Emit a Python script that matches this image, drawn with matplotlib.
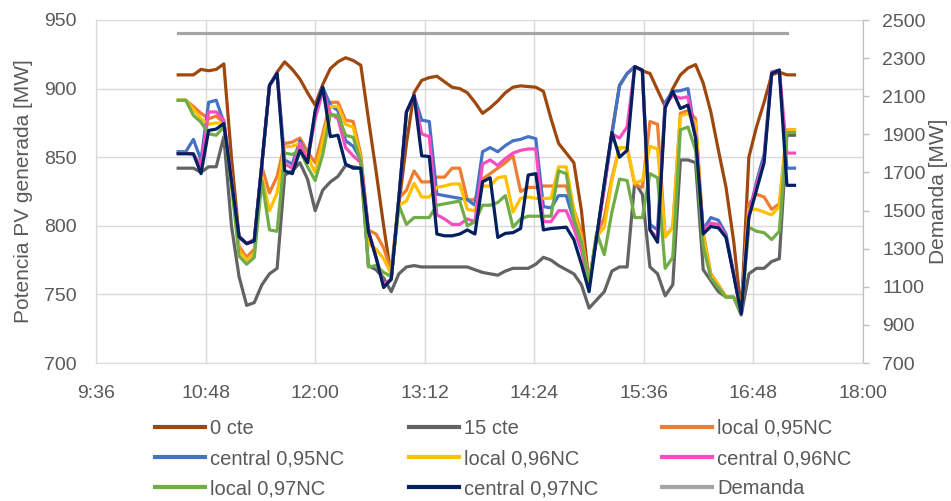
import matplotlib
matplotlib.use('Agg')
import matplotlib.pyplot as plt
import numpy as np

plt.rcParams['font.family'] = ['Liberation Sans', 'DejaVu Sans']

# ---- data ----
t_start = 630   # 10:30 in minutes of the day
t_step = 5      # five-minute samples
n_points = 82
times = t_start + t_step * np.arange(n_points)

cte_0 = [910, 910, 910, 914, 913, 914, 918, 850, 792, 787, 790, 845, 902, 912, 919.5, 914,
         907, 897, 888, 903, 914.6, 919.5, 922.5, 920.5, 917, 878, 840, 800, 763, 815, 860, 897,
         906, 908, 909, 905, 901, 900, 897, 890, 882, 886, 891, 897, 901, 902, 901.5, 901,
         898, 878, 860, 853, 846, 811, 757, 792, 830, 868, 902, 911, 916, 913, 911, 899,
         887, 900, 910, 915, 917.5, 904, 883, 855, 828, 789, 737, 850, 872, 890, 910, 912,
         910, 910]
cte_15 = [842, 842, 842, 839, 843, 843, 865, 800, 763, 742, 744, 757, 765, 769, 837, 840,
          846, 834, 811, 826, 832, 836, 844, 843, 842, 771, 768, 762, 752, 765, 770, 771,
          770, 770, 770, 770, 770, 770, 770, 768, 766, 765, 764, 767, 769, 769, 769, 772,
          777, 775, 771, 768, 765, 757, 740, 746, 752, 767, 770, 770, 832, 823, 770, 765,
          749, 757, 848, 848, 846, 768, 760, 752, 748, 748, 735, 765, 769, 769, 774, 776,
          866, 866]
local_095 = [891.5, 891.5, 887, 882, 878, 880, 875, 835, 785, 777, 783, 843, 824, 836, 860, 861,
             864, 854, 846, 867, 890, 890, 877, 876, 852, 797, 794, 784, 767, 820, 826, 840,
             832, 832, 835.5, 835.5, 842, 842, 819, 819, 834, 838, 842, 846, 851, 825, 828, 828,
             829, 829, 829, 829, 812, 795, 758, 794, 806, 835, 857, 857, 830, 828, 876, 874,
             792, 799, 882, 884, 878, 795, 765, 757, 748, 748, 737, 816, 823, 821, 812, 816,
             870, 870]
central_095 = [854, 854, 863, 848, 890, 891.5, 875.5, 833, 792, 787, 789, 845, 902, 911, 848, 845,
               862, 850, 882, 901, 888, 884, 862, 858, 848, 796, 777, 757, 761, 820, 883, 895,
               877, 876, 823, 822, 821, 820, 819, 815, 854, 857, 854, 858.5, 862, 863, 865, 863.5,
               814, 813, 822, 822, 804, 785, 758, 792, 828, 866, 902.5, 911, 916, 913.5, 801, 797,
               890, 898, 898.5, 900, 865, 797, 806, 804, 794, 765, 736, 808, 832, 852, 912, 913.5,
               842, 842]
local_096 = [891.5, 891.5, 885, 878, 874, 875, 874, 833, 782, 775, 780, 836, 811, 824, 857.5, 858,
             860, 850, 839, 862, 887, 887, 874, 872, 849, 787, 783, 776, 765, 815, 818, 831,
             821, 821, 828, 829, 830.5, 830.5, 812, 811, 829, 829, 835, 836, 810, 820, 821, 820,
             820, 820, 843, 843, 812, 790, 758, 792, 799, 833, 857, 857, 831, 833, 858, 856,
             792, 799, 880, 882, 875, 793, 764, 757, 748, 748, 737, 812, 812, 810, 808, 814,
             870, 870]
central_096 = [853, 853, 852, 844, 883, 883, 877, 833, 792, 787, 789, 845, 902, 911, 845, 842,
               860, 848, 878, 898, 882, 878, 857, 851, 846, 796, 777, 757, 761, 820, 883, 895,
               867, 865, 808, 805, 801, 801, 805, 803, 845, 848, 844, 849, 853, 855, 856, 856,
               803, 803, 811, 811, 798, 782, 758, 791, 828, 867, 864, 872, 916, 913, 797, 791,
               888, 895, 893, 894, 865, 796, 802, 801, 792, 765, 736, 808, 830, 848, 912, 913,
               853, 853]
local_097 = [891.5, 891.5, 880.5, 875.5, 867, 866, 872, 830, 778, 772, 777, 833, 797, 796, 853, 852,
             855, 843, 833, 852, 881, 880.5, 866, 864.5, 847, 770, 771, 766, 763, 815, 801, 806,
             806, 806, 815, 816, 817, 818, 800, 803, 815, 815, 817, 822, 799, 805, 807, 807,
             807, 807, 840, 838, 805, 788, 758, 795, 779, 810, 834, 833, 806, 806, 838, 835,
             769, 777, 870, 872, 855, 785, 762, 755, 748, 748, 737, 799, 796, 795, 790, 796,
             868, 868]
central_097 = [852.5, 852.5, 852.5, 838, 869.5, 870.5, 874.5, 833, 792, 787, 789, 845, 902.5, 911, 840, 838,
               855, 846, 884, 901, 865, 866, 845, 842, 842, 796, 777, 755, 761, 820, 883, 895,
               851, 850.5, 794, 792.7, 792.7, 794, 797, 794, 832, 835, 791.5, 794.5, 795, 798, 837, 838,
               797, 798, 798.5, 799, 790, 772, 752, 792, 831, 868, 850, 855, 916, 913.5, 797, 788,
               886, 898, 885.5, 888, 864, 794, 799.5, 798.5, 791.5, 764, 736, 806, 826, 846, 911, 913.5,
               829.5, 829.5]
demanda = [2433, 2433, 2433, 2433, 2433, 2433, 2433, 2433, 2433, 2433, 2433, 2433, 2433, 2433,
           2433, 2433, 2433, 2433, 2433, 2433, 2433, 2433, 2433, 2433, 2433, 2433, 2433, 2433,
           2433, 2433, 2433, 2433, 2433, 2433, 2433, 2433, 2433, 2433, 2433, 2433, 2433, 2433,
           2433, 2433, 2433, 2433, 2433, 2433, 2433, 2433, 2433, 2433, 2433, 2433, 2433, 2433,
           2433, 2433, 2433, 2433, 2433, 2433, 2433, 2433, 2433, 2433, 2433, 2433, 2433, 2433,
           2433, 2433, 2433, 2433, 2433, 2433, 2433, 2433, 2433, 2433, 2433]

series_names = ['0 cte', '15 cte', 'local 0,95NC', 'central 0,95NC', 'local 0,96NC',
                'central 0,96NC', 'local 0,97NC', 'central 0,97NC']
series_values = [cte_0, cte_15, local_095, central_095, local_096, central_096, local_097, central_097]
series_colors = ['#9E480E', '#636363', '#ED7D31', '#4472C4', '#FFC000', '#F44EC2', '#70AD47', '#002060']

x_ticks = [576, 648, 720, 792, 864, 936, 1008, 1080]
x_tick_labels = ['9:36', '10:48', '12:00', '13:12', '14:24', '15:36', '16:48', '18:00']
left_ticks = [700, 750, 800, 850, 900, 950]
right_ticks = [700, 900, 1100, 1300, 1500, 1700, 1900, 2100, 2300, 2500]

# ---- figure ----
W, H = 951, 501
fig = plt.figure(figsize=(W / 100, H / 100), dpi=100)
x0, x1, y0, y1 = 96, 863, 20, 363
ax = fig.add_axes([x0 / W, 1 - y1 / H, (x1 - x0) / W, (y1 - y0) / H])
ax2 = ax.twinx()

text_col = '#595959'
grid_col = '#D9D9D9'

handles = []
for name, vals, col in zip(series_names, series_values, series_colors):
    h, = ax.plot(times, vals, color=col, lw=2.3, label=name, solid_joinstyle='round')
    handles.append(h)
hd, = ax2.plot(times[:len(demanda)], demanda, color='#A5A5A5', lw=2.3, label='Demanda')
handles.append(hd)

ax.set_xlim(576, 1080)
ax.set_ylim(700, 950)
ax2.set_ylim(700, 2500)
ax.set_xticks(x_ticks)
ax.set_xticklabels(x_tick_labels)
ax.set_yticks(left_ticks)
ax2.set_yticks(right_ticks)

ax.grid(True, color=grid_col, lw=1)
ax.set_axisbelow(True)
for sp in ['left', 'bottom', 'right']:
    ax.spines[sp].set_color(grid_col)
    ax2.spines[sp].set_color(grid_col)
ax.spines['top'].set_visible(False)
ax2.spines['top'].set_visible(False)
ax2.spines['right'].set_color('#BFBFBF')

ax.tick_params(axis='y', length=0, pad=14, labelsize=14, labelcolor=text_col)
ax.tick_params(axis='x', length=0, pad=16, labelsize=14, labelcolor=text_col)
ax2.tick_params(axis='y', length=4, width=1, color='#BFBFBF', pad=10, labelsize=14, labelcolor=text_col)

ax.set_ylabel('Potencia PV generada [MW]', fontsize=15, color=text_col, labelpad=8)
ax2.set_ylabel('Demanda [MW]', fontsize=15, color=text_col, labelpad=2)

# legend: rows filled left-to-right as in the reference
order = [0, 3, 6, 1, 4, 7, 2, 5, 8]
leg = fig.legend([handles[i] for i in order], [handles[i].get_label() for i in order],
                 ncol=3, loc='upper left', bbox_to_anchor=(155 / W, 1 - 419 / H),
                 frameon=False, fontsize=14.5, handlelength=2.48, handletextpad=0.25,
                 columnspacing=3.2, labelspacing=0.55, borderpad=0, borderaxespad=0)
for txt in leg.get_texts():
    txt.set_color(text_col)
for lh in leg.get_lines():
    lh.set_linewidth(3)

fig.savefig('out.png', dpi=100)
